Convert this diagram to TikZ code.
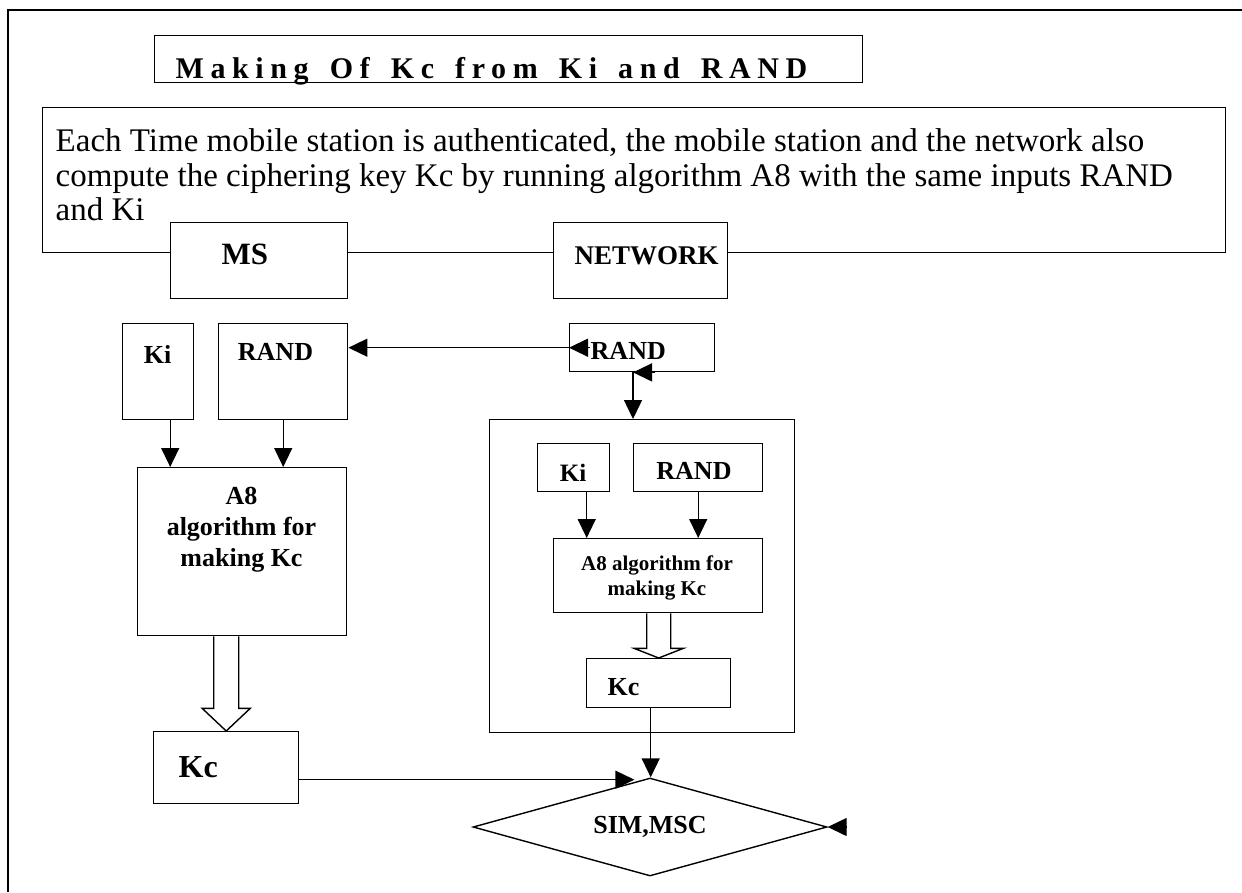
\documentclass[tikz,border=0pt]{standalone}
\usepackage{fontspec}
\setmainfont{Liberation Serif}
\newfontfamily\titlefont[LetterSpace=22]{Liberation Serif}
\usetikzlibrary{arrows.meta,shapes.geometric,calc}
\newcommand\fsz[2]{\fontsize{#1}{#2}\selectfont}
\newcommand\wgap{\hspace{7pt}}
\begin{document}
\begin{tikzpicture}[x=1pt,y=-1pt,line width=1.4pt,
  box/.style={draw,rectangle,inner sep=0pt,fill=white},
  lbl/.style={inner sep=0pt,font=\bfseries\fsz{26}{30}},
  txt/.style={inner sep=0pt,font=\fsz{33}{36}},
  arr/.style={-{Triangle[length=19pt,width=18pt]}},
  hollow/.style={draw,fill=white,line join=miter}]
\useasboundingbox (0,0) rectangle (1242,892);
% outer frame
\draw[line width=2pt] (8,892) -- (8,10) -- (1242,10);
% title
\node[box,anchor=north west,minimum width=708pt,minimum height=47pt] (title) at (154,35) {};
\node[lbl,anchor=base west,font=\titlefont\bfseries\fsz{30}{32}] (titletext) at (175,78)
  {Making \wgap Of \wgap Kc \wgap from \wgap Ki \wgap and \wgap RAND};
% description
\node[box,fill=none,anchor=north west,minimum width=1183pt,minimum height=145pt] (desc) at (42,107) {};
\node[txt,anchor=base west] (d1) at (55,151) {Each Time mobile station is authenticated, the mobile station and the network also};
\node[txt,anchor=base west] (d2) at (55,186) {compute the ciphering key Kc by running algorithm A8 with the same inputs RAND};
\node[txt,anchor=base west] (d3) at (55,220) {and Ki};
% MS / NETWORK
\node[box,anchor=north west,minimum width=177pt,minimum height=76pt] (ms) at (170,222) {};
\node[lbl,anchor=base west,font=\bfseries\fsz{31}{34}] (mstext) at (221,264) {MS};
\node[box,anchor=north west,minimum width=174pt,minimum height=76pt] (net) at (553,222) {};
\node[lbl,anchor=base west,font=\bfseries\fsz{27}{32}] (nettext) at (574,264) {NETWORK};
% MS side
\node[box,anchor=north west,minimum width=71pt,minimum height=96pt] (lki) at (122,323) {};
\node[lbl,anchor=base] (lkitext) at (157.5,363) {Ki};
\node[box,anchor=north west,minimum width=129pt,minimum height=96pt] (lrand) at (218,323) {};
\node[lbl,anchor=base] (lrandtext) at (275.5,360) {RAND};
\node[box,anchor=north west,minimum width=209pt,minimum height=168pt] (la8) at (137,467) {};
\node[lbl,anchor=base] (la8t1) at (241.5,504) {A8};
\node[lbl,anchor=base] (la8t2) at (241.5,535) {algorithm for};
\node[lbl,anchor=base] (la8t3) at (241.5,566) {making Kc};
\node[box,anchor=north west,minimum width=145pt,minimum height=72pt] (lkc) at (153,731) {};
\node[lbl,anchor=base west,font=\bfseries\fsz{32}{34}] (lkctext) at (178,777) {Kc};
% network side
\node[box,anchor=north west,minimum width=145pt,minimum height=48pt] (nrand) at (569,323) {};
\node[lbl,anchor=base west] (nrandtext) at (590,359) {RAND};
\node[box,anchor=north west,minimum width=305pt,minimum height=313pt] (netbox) at (489,419) {};
\node[box,anchor=north west,minimum width=72pt,minimum height=48pt] (iki) at (537,443) {};
\node[lbl,anchor=base,font=\bfseries\fsz{25}{30}] (ikitext) at (573,481) {Ki};
\node[box,anchor=north west,minimum width=129pt,minimum height=48pt] (irand) at (633,443) {};
\node[lbl,anchor=base] (irandtext) at (694,479) {RAND};
\node[box,anchor=north west,minimum width=209pt,minimum height=74pt] (ia8) at (553,538) {};
\node[lbl,anchor=base,font=\bfseries\fsz{21}{25}] (ia8t1) at (657,570) {A8 algorithm for};
\node[lbl,anchor=base,font=\bfseries\fsz{21}{25}] (ia8t2) at (657,595) {making Kc};
\node[box,anchor=north west,minimum width=144pt,minimum height=49pt] (ikc) at (586,658) {};
\node[lbl,anchor=base west] (ikctext) at (607,695) {Kc};
% diamond
\node[draw,diamond,shape aspect=3.6,minimum width=354pt,minimum height=98pt,inner sep=0pt,
  font=\bfseries\fsz{26}{30}] (sim) at (650,827) {SIM,MSC};
% connectors MS side
\coordinate (k1) at ($(lki.south)+(12,0)$);
\draw[arr] (k1) -- (k1 |- la8.north);
\draw[arr] (lrand.south) -- (lrand.south |- la8.north);
\coordinate (h1) at (la8.south -| lkc.north);
\draw[hollow] ($(h1)+(-12.5,0)$) -- ($(h1)+(-12.5,72)$) -- ($(h1)+(-24,72)$) -- (h1 |- lkc.north)
  -- ($(h1)+(24,72)$) -- ($(h1)+(12.5,72)$) -- ($(h1)+(12.5,0)$);
\coordinate (kcout) at ($(lkc.east)+(0,12)$);
\coordinate (kcin) at ($(kcout)+(335,0)$);
\draw[arr] (kcout) -- (kcin);
% RAND from network to MS
\draw[arr] (nrand.west) -- (nrand.west -| lrand.east);
\draw[arr] ($(nrand.west)+(21,0)$) -- (nrand.west);
\coordinate (r1) at ($(nrand.south west)+(64,0)$);
\draw[arr] ($(r1)+(22,0)$) -- (r1);
\draw[arr] (r1) -- (r1 |- netbox.north);
% network inner
\coordinate (k2) at ($(iki.south)+(13,0)$);
\draw[arr] (k2) -- (k2 |- ia8.north);
\draw[arr] (irand.south) -- (irand.south |- ia8.north);
\coordinate (h2) at (ia8.south -| ikc.north);
\draw[hollow] ($(h2)+(-12,0)$) -- ($(h2)+(-12,35)$) -- ($(h2)+(-24.5,35)$) -- (h2 |- ikc.north)
  -- ($(h2)+(24.5,35)$) -- ($(h2)+(12,35)$) -- ($(h2)+(12,0)$);
\coordinate (k3) at ($(ikc.south)+(-8,0)$);
\draw[arr] (k3) -- (k3 |- sim.north);
% stray head at diamond right
\draw[arr] ($(sim.east)+(19,0)$) -- (sim.east);
\end{tikzpicture}
\end{document}
